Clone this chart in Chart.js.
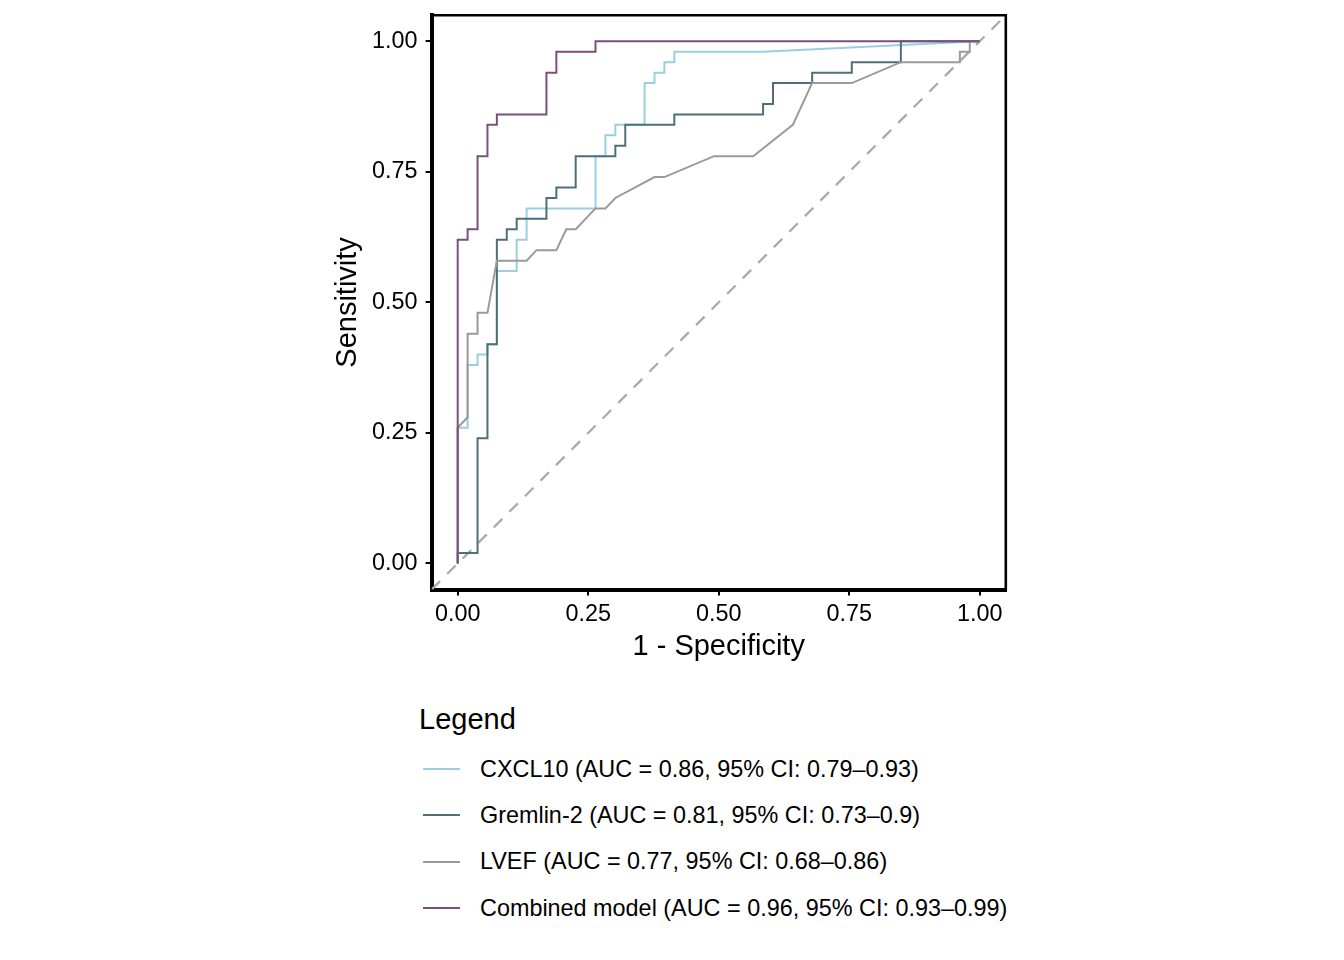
<!DOCTYPE html>
<html lang="en">
<head>
    <meta charset="UTF-8">
    <title>ROC curves</title>
    <script src="https://cdn.jsdelivr.net/npm/chart.js"></script>
    <style>
        body { margin: 0; background: #fff; font-family: "Liberation Sans", Arial, sans-serif; }
        #wrap { position: relative; width: 1344px; height: 960px; }
        #roc { position: absolute; left: 320px; top: 0; }
        #legendTitle { position: absolute; left: 419px; top: 705px; font-size: 29px; line-height: 29px; color: #000; }
        #legend { position: absolute; left: 419px; top: 746px; color: #000; }
        #legend .row { display: flex; align-items: center; height: 46.3px; font-size: 23.4px; white-space: nowrap; }
        #legend .key { width: 37px; height: 2px; margin-left: 4px; margin-right: 20px; }
    </style>
</head>
<body>
<div id="wrap">
    <canvas id="roc" width="700" height="680"></canvas>
    <div id="legendTitle">Legend</div>
    <div id="legend"></div>
</div>
<script>
    const seriesNames = [
        "CXCL10 (AUC = 0.86, 95% CI: 0.79\u20130.93)",
        "Gremlin-2 (AUC = 0.81, 95% CI: 0.73\u20130.9)",
        "LVEF (AUC = 0.77, 95% CI: 0.68\u20130.86)",
        "Combined model (AUC = 0.96, 95% CI: 0.93\u20130.99)"
    ];
    const seriesColors = ["#9ccde2", "#4f6f78", "#9a9a9a", "#7b4f7d"];

    // 1 - specificity / sensitivity pairs
    const cxcl10Fpr = [0, 0, 0.019, 0.019, 0.038, 0.038, 0.057, 0.057, 0.075, 0.075, 0.113, 0.113, 0.132, 0.132, 0.264, 0.264, 0.283, 0.283, 0.302, 0.302, 0.358, 0.358, 0.377, 0.377, 0.396, 0.396, 0.415, 0.415, 0.585, 1];
    const cxcl10Tpr = [0, 0.26, 0.26, 0.38, 0.38, 0.40, 0.40, 0.42, 0.42, 0.56, 0.56, 0.62, 0.62, 0.68, 0.68, 0.78, 0.78, 0.82, 0.82, 0.84, 0.84, 0.92, 0.92, 0.94, 0.94, 0.96, 0.96, 0.98, 0.98, 1];

    const gremlinFpr = [0, 0, 0.038, 0.038, 0.057, 0.057, 0.075, 0.075, 0.094, 0.094, 0.113, 0.113, 0.170, 0.170, 0.189, 0.189, 0.226, 0.226, 0.302, 0.302, 0.321, 0.321, 0.415, 0.415, 0.585, 0.585, 0.604, 0.604, 0.679, 0.679, 0.755, 0.755, 0.849, 0.849, 1];
    const gremlinTpr = [0, 0.02, 0.02, 0.24, 0.24, 0.42, 0.42, 0.62, 0.62, 0.64, 0.64, 0.66, 0.66, 0.70, 0.70, 0.72, 0.72, 0.78, 0.78, 0.80, 0.80, 0.84, 0.84, 0.86, 0.86, 0.88, 0.88, 0.92, 0.92, 0.94, 0.94, 0.96, 0.96, 1, 1];

    const lvefFpr = [0, 0, 0.019, 0.019, 0.038, 0.038, 0.057, 0.075, 0.132, 0.151, 0.189, 0.208, 0.226, 0.264, 0.283, 0.302, 0.377, 0.396, 0.491, 0.566, 0.642, 0.679, 0.755, 0.849, 0.962, 0.962, 0.981, 0.981, 1];
    const lvefTpr = [0, 0.26, 0.28, 0.44, 0.44, 0.48, 0.48, 0.58, 0.58, 0.60, 0.60, 0.64, 0.64, 0.68, 0.68, 0.70, 0.74, 0.74, 0.78, 0.78, 0.84, 0.92, 0.92, 0.96, 0.96, 0.98, 0.98, 1, 1];

    const combinedFpr = [0, 0, 0.019, 0.019, 0.038, 0.038, 0.057, 0.057, 0.075, 0.075, 0.170, 0.170, 0.189, 0.189, 0.264, 0.264, 1];
    const combinedTpr = [0, 0.62, 0.62, 0.64, 0.64, 0.78, 0.78, 0.84, 0.84, 0.86, 0.86, 0.94, 0.94, 0.98, 0.98, 1, 1];

    const axisLimits = [-0.05, 1.05];
    const tickValues = [0, 0.25, 0.5, 0.75, 1];

    const fprs = [cxcl10Fpr, gremlinFpr, lvefFpr, combinedFpr];
    const tprs = [cxcl10Tpr, gremlinTpr, lvefTpr, combinedTpr];

    const toPoints = (xs, ys) => xs.map((x, i) => ({ x: x, y: ys[i] }));

    const datasets = seriesNames.map((name, i) => ({
        label: name,
        data: toPoints(fprs[i], tprs[i]),
        borderColor: seriesColors[i],
        borderWidth: 2,
        pointRadius: 0,
        tension: 0,
        fill: false,
        order: 4 - i
    }));
    datasets.push({
        label: "chance",
        data: toPoints(axisLimits, axisLimits),
        borderColor: "#aaaaaa",
        borderWidth: 2.3,
        borderDash: [12, 10],
        pointRadius: 0,
        fill: false,
        order: 5
    });

    const tickFont = { family: "'Liberation Sans', Arial, sans-serif", size: 23.4 };
    const titleFont = { family: "'Liberation Sans', Arial, sans-serif", size: 29 };

    // top and right edges of the panel
    const panelBorder = {
        id: "panelBorder",
        afterDraw(chart) {
            const { ctx, chartArea: a } = chart;
            ctx.save();
            ctx.strokeStyle = "#000";
            ctx.lineWidth = 2.6;
            ctx.beginPath();
            ctx.moveTo(a.left, a.top);
            ctx.lineTo(a.right, a.top);
            ctx.lineTo(a.right, a.bottom);
            ctx.stroke();
            ctx.restore();
        }
    };

    const axisCommon = {
        type: "linear",
        min: axisLimits[0],
        max: axisLimits[1],
        border: { display: true, color: "#000", width: 4 },
        grid: { drawOnChartArea: false, drawTicks: true, tickLength: 6, color: "#000", lineWidth: 2 },
        afterBuildTicks: (scale) => { scale.ticks = tickValues.map(v => ({ value: v })); }
    };

    new Chart(document.getElementById("roc"), {
        type: "line",
        data: { datasets: datasets },
        options: {
            responsive: false,
            animation: false,
            devicePixelRatio: 1,
            layout: { padding: { top: 15.2, right: 14.2, left: 0, bottom: 0 } },
            plugins: { legend: { display: false }, tooltip: { enabled: false } },
            scales: {
                x: {
                    ...axisCommon,
                    ticks: { font: tickFont, color: "#000", padding: 5, maxRotation: 0, callback: v => v.toFixed(2) },
                    title: { display: true, text: "1 - Specificity", font: titleFont, color: "#000", padding: { top: 0, bottom: 16 } },
                    afterFit: (s) => { s.height = 90.4; s.paddingLeft = 0; s.paddingRight = 0; }
                },
                y: {
                    ...axisCommon,
                    ticks: { font: tickFont, color: "#000", padding: 8, callback: v => v.toFixed(2) },
                    title: { display: true, text: "Sensitivity", font: titleFont, color: "#000", padding: { top: 11, bottom: 0 } },
                    afterFit: (s) => { s.width = 111.6; s.paddingTop = 0; s.paddingBottom = 0; }
                }
            }
        },
        plugins: [panelBorder]
    });

    document.getElementById("legend").innerHTML = seriesNames.map((name, i) =>
        '<div class="row"><span class="key" style="background:' + seriesColors[i] + '"></span><span>' + name + '</span></div>'
    ).join("");
</script>
</body>
</html>
